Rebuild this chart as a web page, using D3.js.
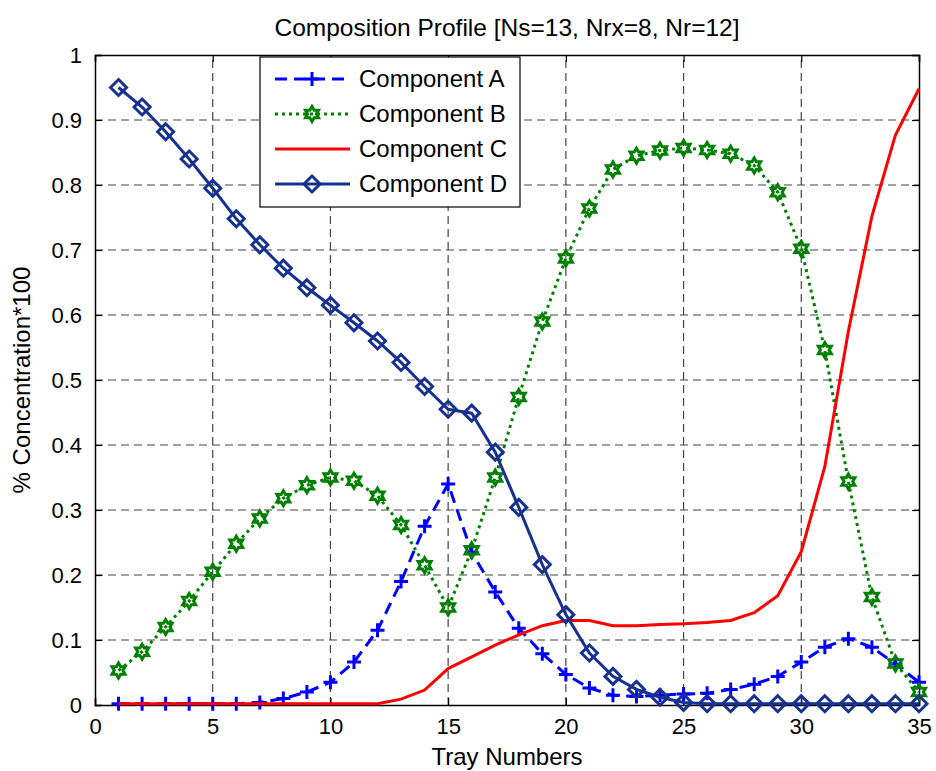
<!DOCTYPE html>
<html>
<head>
<meta charset="utf-8">
<script src="https://cdn.jsdelivr.net/npm/d3@7"></script>
<style>
  body { margin: 0; background: #fff; }
  text { font-family: "Liberation Sans", Arial, sans-serif; }
</style>
</head>
<body>
<svg id="chart" width="936" height="771"></svg>
<script>
// tray numbers 1..35
const trays = [1,2,3,4,5,6,7,8,9,10,11,12,13,14,15,16,17,18,19,20,21,22,23,24,25,26,27,28,29,30,31,32,33,34,35]

const compA = [0.002,0.002,0.002,0.002,0.002,0.002,0.004,0.01,0.02,0.035,0.066,0.115,0.19,0.275,0.34,0.235,0.174,0.118,0.079,0.047,0.026,0.015,0.013,0.015,0.017,0.018,0.024,0.032,0.044,0.066,0.089,0.102,0.089,0.063,0.035]
const compB = [0.053,0.082,0.12,0.16,0.205,0.248,0.287,0.318,0.338,0.35,0.345,0.322,0.277,0.215,0.15,0.238,0.35,0.474,0.59,0.687,0.764,0.824,0.845,0.853,0.857,0.854,0.848,0.83,0.789,0.702,0.546,0.344,0.166,0.064,0.02]
const compC = [0.002,0.002,0.002,0.002,0.002,0.002,0.002,0.002,0.002,0.002,0.002,0.002,0.009,0.023,0.056,0.074,0.092,0.108,0.122,0.13,0.13,0.122,0.122,0.124,0.125,0.127,0.13,0.142,0.168,0.236,0.367,0.575,0.752,0.877,0.948]
const compD = [0.95,0.92,0.882,0.84,0.795,0.748,0.708,0.672,0.642,0.615,0.588,0.56,0.527,0.49,0.455,0.449,0.389,0.304,0.216,0.139,0.08,0.044,0.024,0.012,0.004,0.002,0.002,0.002,0.002,0.002,0.002,0.002,0.002,0.002,0.002]

const xTicks = [0,5,10,15,20,25,30,35]
const yTicks = [0,0.1,0.2,0.3,0.4,0.5,0.6,0.7,0.8,0.9,1]

const series = [
  {name: "Component A", values: compA, color: "#0000ff", dash: "12,7", marker: "plus"},
  {name: "Component B", values: compB, color: "#008000", dash: "3,4", marker: "hex"},
  {name: "Component C", values: compC, color: "#ff0000", dash: null, marker: null},
  {name: "Component D", values: compD, color: "#17318f", dash: null, marker: "diamond"}
]

const margin = {left: 95, right: 17, top: 55, bottom: 66}
const W = 936, H = 771
const svg = d3.select("#chart")

const x = d3.scaleLinear().domain([0, 35]).range([margin.left, W - margin.right])
const y = d3.scaleLinear().domain([0, 1]).range([H - margin.bottom, margin.top])

//grid
const grid = svg.append("g").attr("stroke", "#444").attr("stroke-width", 1.2).attr("stroke-dasharray", "8,5")
grid.selectAll(".gx").data(xTicks.slice(1, -1)).join("line")
  .attr("x1", d => x(d)).attr("x2", d => x(d))
  .attr("y1", y(0)).attr("y2", y(1))
grid.selectAll(".gy").data(yTicks.slice(1, -1)).join("line")
  .attr("x1", x(0)).attr("x2", x(35))
  .attr("y1", d => y(d)).attr("y2", d => y(d))

//axes, MATLAB style ticks inside
const axB = svg.append("g").attr("transform", `translate(0,${y(0)})`)
  .call(d3.axisBottom(x).tickValues(xTicks).tickSize(-7).tickPadding(13).tickFormat(d3.format("d")))
const axT = svg.append("g").attr("transform", `translate(0,${y(1)})`)
  .call(d3.axisTop(x).tickValues(xTicks).tickSize(-7).tickFormat(""))
const axL = svg.append("g").attr("transform", `translate(${x(0)},0)`)
  .call(d3.axisLeft(y).tickValues(yTicks).tickSize(-7).tickPadding(13).tickFormat(d => d === 0 || d === 1 ? d : d3.format(".1f")(d)))
const axR = svg.append("g").attr("transform", `translate(${x(35)},0)`)
  .call(d3.axisRight(y).tickValues(yTicks).tickSize(-7).tickFormat(""))
;[axB, axT, axL, axR].forEach(g => {
  g.select(".domain").attr("stroke", "#000").attr("stroke-width", 1.5)
  g.selectAll(".tick line").attr("stroke", "#000").attr("stroke-width", 1.2)
  g.selectAll("text").attr("font-size", 22).attr("fill", "#000").attr("font-family", "Liberation Sans, Arial, sans-serif")
})

//marker shapes
function hexPath(r) {
  const ri = r * 0.58
  const pts = []
  for (let i = 0; i < 12; i++) {
    const a = -Math.PI / 2 + i * Math.PI / 6
    const rr = i % 2 === 0 ? r : ri
    pts.push([rr * Math.cos(a), rr * Math.sin(a)])
  }
  return "M" + pts.map(p => p.join(",")).join("L") + "Z"
}
function drawMarker(g, kind, color) {
  if (kind === "plus") {
    g.append("path").attr("d", "M-7,0H7M0,-7V7").attr("stroke", color).attr("stroke-width", 3).attr("fill", "none")
  } else if (kind === "hex") {
    g.append("path").attr("d", hexPath(7.5)).attr("stroke", color).attr("stroke-width", 3).attr("fill", "none").attr("stroke-linejoin", "miter")
  } else if (kind === "diamond") {
    g.append("path").attr("d", "M0,-8L8,0L0,8L-8,0Z").attr("stroke", color).attr("stroke-width", 3).attr("fill", "none")
  }
}

const line = d3.line().x((d, i) => x(trays[i])).y(d => y(d))

//draw in order A, B, C, D
series.forEach(s => {
  svg.append("path").datum(s.values)
    .attr("d", line)
    .attr("fill", "none")
    .attr("stroke", s.color)
    .attr("stroke-width", 3)
    .attr("stroke-dasharray", s.dash)
  if (s.marker) {
    svg.append("g").selectAll("g").data(s.values).join("g")
      .attr("transform", (d, i) => `translate(${x(trays[i])},${y(d)})`)
      .each(function () { drawMarker(d3.select(this), s.marker, s.color) })
  }
})

//legend
const lg = svg.append("g").attr("transform", "translate(260,57)")
lg.append("rect").attr("width", 260).attr("height", 150).attr("fill", "#fff").attr("stroke", "#000").attr("stroke-width", 1.2)
series.forEach((s, i) => {
  const row = lg.append("g").attr("transform", `translate(0,${22 + i * 35})`)
  row.append("line").attr("x1", 15).attr("x2", 90)
    .attr("stroke", s.color).attr("stroke-width", 3).attr("stroke-dasharray", s.dash)
  if (s.marker) drawMarker(row.append("g").attr("transform", "translate(52,0)"), s.marker, s.color)
  row.append("text").attr("x", 99).attr("y", 8).attr("font-size", 24).attr("fill", "#000").text(s.name)
})

//labels
svg.append("text").attr("x", (x(0) + x(35)) / 2).attr("y", 36).attr("text-anchor", "middle")
  .attr("font-size", 24.5).text("Composition Profile [Ns=13, Nrx=8, Nr=12]")
svg.append("text").attr("x", (x(0) + x(35)) / 2).attr("y", 765).attr("text-anchor", "middle")
  .attr("font-size", 24).text("Tray Numbers")
svg.append("text").attr("transform", `translate(30,${(y(0) + y(1)) / 2}) rotate(-90)`).attr("text-anchor", "middle")
  .attr("font-size", 24).text("% Concentration*100")
</script>
</body>
</html>
